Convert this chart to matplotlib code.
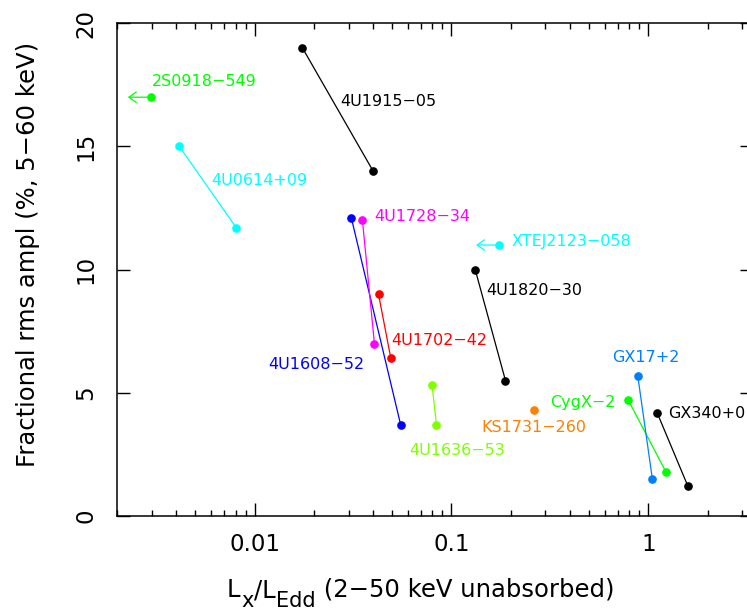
import matplotlib as mpl
mpl.use('Agg')
import matplotlib.pyplot as plt
from matplotlib.ticker import FuncFormatter, NullFormatter, FixedLocator
import numpy as np

# sources: each has one or two (Lx/LEdd, rms) points
names = ['2S0918\u2212549', '4U0614+09', '4U1915\u221205', '4U1608\u221252',
         '4U1728\u221234', '4U1702\u221242', 'XTEJ2123\u2212058', '4U1820\u221230',
         '4U1636\u221253', 'KS1731\u2212260', 'CygX\u22122', 'GX17+2', 'GX340+0']
lx = [[0.00298], [0.00415, 0.00807], [0.0175, 0.0400], [0.0310, 0.0552],
      [0.0353, 0.0406], [0.0426, 0.0492], [0.175], [0.132, 0.188],
      [0.0797, 0.0839], [0.263], [0.791, 1.226], [0.883, 1.048], [1.107, 1.59]]
rms = [[17.0], [15.0, 11.7], [19.0, 14.0], [12.1, 3.7],
       [12.0, 7.0], [9.0, 6.4], [11.0], [10.0, 5.5],
       [5.3, 3.7], [4.3], [4.7, 1.8], [5.7, 1.5], [4.2, 1.2]]
upper_lim = [True, False, False, False, False, False, True, False,
             False, False, False, False, False]
colors = ['#00ff00', '#00ffff', 'black', '#0000ff', '#ff00ff', '#ff0000',
          '#00ffff', 'black', '#80ff00', '#ff8000', '#00ff00', '#0080ff', 'black']

# label anchors (data coords, baseline)
lab_x = [0.00302, 0.00603, 0.0271, 0.0360, 0.0404, 0.0496, 0.202, 0.1508,
         0.0609, 0.142, 0.677, 0.656, 1.264]
lab_y = [17.46, 13.43, 16.66, 5.95, 11.96, 6.94, 10.94, 8.96,
         2.47, 3.42, 4.44, 6.25, 3.97]
lab_ha = ['left', 'left', 'left', 'right', 'left', 'left', 'left', 'left',
          'left', 'left', 'right', 'left', 'left']

fig = plt.figure(figsize=(7.47, 6.11), dpi=100)
ax = fig.add_axes([117/747., 95/611., 636/747., 492.7/611.])

for i in range(len(names)):
    ax.plot(lx[i], rms[i], '-', color=colors[i], lw=0.9,
            marker='o', ms=5.2, mec=colors[i], mfc=colors[i])
    if upper_lim[i]:
        x0, y0 = lx[i][0], rms[i][0]
        ax.annotate('', xy=(x0 / 10**0.118, y0), xytext=(x0, y0),
                    arrowprops=dict(arrowstyle='->,head_length=0.35,head_width=0.25',
                                    color=colors[i], lw=0.9, shrinkA=0, shrinkB=0,
                                    mutation_scale=15))
    ax.text(lab_x[i], lab_y[i], names[i], color=colors[i], fontsize=11.5,
            ha=lab_ha[i], va='baseline')

ax.set_xscale('log')
ax.set_xlim(0.002, 3.4)
ax.set_ylim(0, 20)
ax.xaxis.set_major_locator(FixedLocator([0.01, 0.1, 1]))
ax.xaxis.set_major_formatter(FuncFormatter(lambda v, p: '%g' % v))
ax.xaxis.set_minor_formatter(NullFormatter())
ax.set_yticks([0, 5, 10, 15, 20])

ax.tick_params(which='both', direction='in', top=True, right=True, width=1.0)
ax.tick_params(which='major', length=9.2)
ax.tick_params(which='minor', length=4.0)
ax.tick_params(axis='x', labelsize=16.5, pad=12)
ax.tick_params(axis='y', labelsize=16.5, pad=14.4, labelrotation=90)
for lab in ax.get_yticklabels():
    lab.set_va('center')
for s in ax.spines.values():
    s.set_linewidth(1.1)

# x label built from pieces so the subscripts stay large (as in the original)
fs_lab, fs_sub, drop = 17.5, 15, 6.5
t = fig.text(227/747., 14/611., 'L', fontsize=fs_lab, va='baseline')
t = ax.annotate('x', xy=(1, 0), xycoords=t, xytext=(0.5, -drop),
                textcoords='offset points', fontsize=fs_sub, va='bottom')
t = ax.annotate('/L', xy=(1, 0), xycoords=t, xytext=(0, drop),
                textcoords='offset points', fontsize=fs_lab, va='bottom')
t = ax.annotate('Edd', xy=(1, 0), xycoords=t, xytext=(0.5, -drop),
                textcoords='offset points', fontsize=fs_sub, va='bottom')
t = ax.annotate(' (2\u221250 keV unabsorbed)', xy=(1, 0), xycoords=t,
                xytext=(0, drop), textcoords='offset points',
                fontsize=fs_lab, va='bottom')

ax.set_ylabel('Fractional rms ampl (%, 5\u221260 keV)', fontsize=fs_lab)
ax.yaxis.set_label_coords(-0.121, 0.53)

plt.savefig('out.png', dpi=100)
